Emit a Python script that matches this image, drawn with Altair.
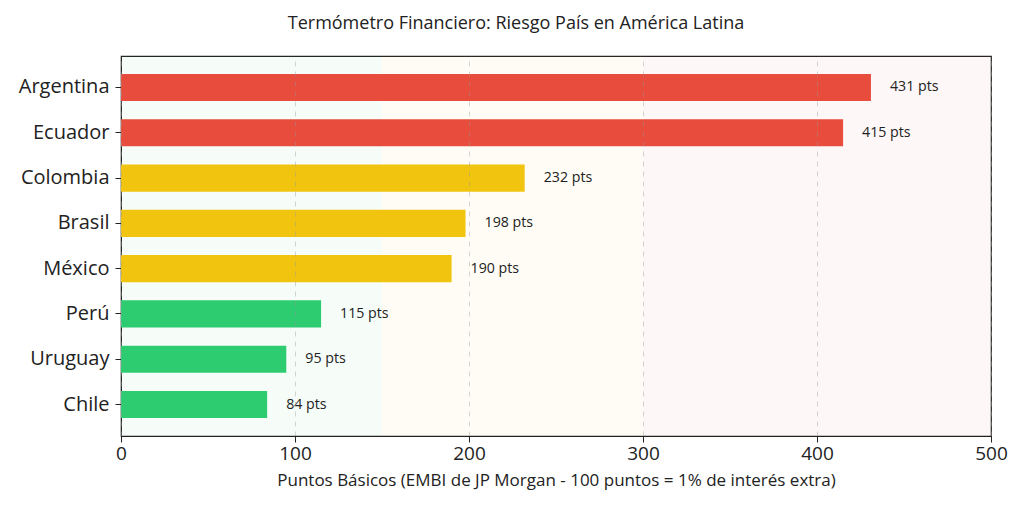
import altair as alt
import pandas as pd

# Country risk (EMBI spread, basis points)
countries = ["Argentina", "Ecuador", "Colombia", "Brasil", "México", "Perú", "Uruguay", "Chile"]
spreads = [431, 415, 232, 198, 190, 115, 95, 84]
levels = ["alto", "alto", "medio", "medio", "medio", "bajo", "bajo", "bajo"]

# Risk zones drawn behind the bars
zone_start = [0, 150, 300]
zone_end = [150, 300, 500]
zone_names = ["bajo", "medio", "alto"]

level_colors = ["#2ECC71", "#F1C40F", "#E74C3C"]

FONT = "Open Sans"
W, H = 870, 380

bars_df = pd.DataFrame({
    "pais": countries,
    "valor": spreads,
    "nivel": levels,
    "etiqueta": [f"{v} pts" for v in spreads],
})
zones_df = pd.DataFrame({"inicio": zone_start, "fin": zone_end, "zona": zone_names})

color_scale = alt.Scale(domain=zone_names, range=level_colors)
x_scale = alt.Scale(domain=[0, 500], nice=False, zero=True)
y_scale = alt.Scale(domain=countries, paddingInner=0.4, paddingOuter=0.395)

zones = alt.Chart(zones_df).mark_rect(opacity=0.045).encode(
    x=alt.X("inicio:Q", scale=x_scale),
    x2="fin:Q",
    y=alt.value(0),
    y2=alt.value(H),
    color=alt.Color("zona:N", scale=color_scale, legend=None),
)

bars = alt.Chart(bars_df).mark_bar(opacity=1).encode(
    x=alt.X(
        "valor:Q",
        scale=x_scale,
        axis=alt.Axis(
            title="Puntos Básicos (EMBI de JP Morgan - 100 puntos = 1% de interés extra)",
            values=[0, 100, 200, 300, 400, 500],
            labelFontSize=19,
            labelColor="#222222",
            labelPadding=2,
            labelFlush=False,
            titleFontSize=17,
            titleFontWeight="normal",
            titleColor="#222222",
            titlePadding=9,
            tickColor="#222222",
            tickSize=6,
            domainColor="#222222",
            grid=True,
            gridDash=[5, 5],
            gridColor="#999999",
            gridOpacity=0.4,
            zindex=1,
        ),
    ),
    y=alt.Y(
        "pais:N",
        sort=countries,
        scale=y_scale,
        axis=alt.Axis(
            title=None,
            labelFontSize=20,
            labelColor="#222222",
            labelPadding=6,
            tickColor="#222222",
            tickSize=6,
            domainColor="#222222",
            grid=False,
        ),
    ),
    color=alt.Color("nivel:N", scale=color_scale, legend=None),
)

labels = alt.Chart(bars_df).mark_text(
    align="left", baseline="middle", dx=19, fontSize=14.2, color="#222222", font=FONT
).encode(
    x=alt.X("valor:Q", scale=x_scale),
    y=alt.Y("pais:N", sort=countries, scale=y_scale),
    text="etiqueta:N",
)

chart = (
    alt.layer(zones, bars, labels)
    .properties(
        width=W,
        height=H,
        autosize=alt.AutoSizeParams(type="none"),
        padding={"left": 121, "top": 56, "right": 33, "bottom": 72},
        title=alt.TitleParams(
            "Termómetro Financiero: Riesgo País en América Latina",
            fontSize=18,
            fontWeight="normal",
            color="#222222",
            font=FONT,
            anchor="middle",
            dx=-40,
            offset=23,
        ),
    )
    .configure(font=FONT, background="white")
    .configure_view(stroke="#222222", strokeWidth=1.2)
)

chart.save("out.html", embed_options={"renderer": "svg", "actions": False})
